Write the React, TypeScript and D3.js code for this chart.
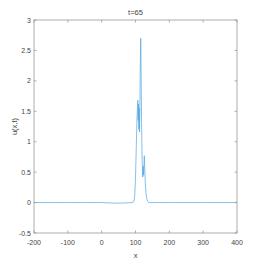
import React from "react";
import * as d3 from "d3";

// u(x, t) at t = 65
const xValues = [
  -200, -150, -100, -50, 0, 20, 40, 60, 80, 90, 94, 96.5, 98, 100, 102, 104,
  106, 107, 108, 109, 110, 111, 112, 113, 114, 115.4, 116.5, 118, 119.5, 121.3,
  122.5, 124, 126, 127.5, 129, 131, 133, 136, 140, 150, 200, 300, 400,
];
const uValues = [
  0, 0, 0, 0, 0, -0.005, -0.01, -0.008, -0.003, 0, 0.01, 0.05, 0.15, 0.4, 0.85,
  1.3, 1.6, 1.68, 1.35, 1.62, 1.2, 1.55, 1.16, 1.5, 2.2, 2.7, 2.2, 1.3, 0.7, 0.42,
  0.6, 0.45, 0.77, 0.55, 0.32, 0.15, 0.07, 0.02, 0, 0, 0, 0, 0,
];

const xTicks = [-200, -100, 0, 100, 200, 300, 400];
const yTicks = [-0.5, 0, 0.5, 1, 1.5, 2, 2.5, 3];

const W = 262;
const H = 262;
const margin = { left: 34, right: 25, top: 20, bottom: 29 };

const App = () => {
  const x = d3
    .scaleLinear()
    .domain([-200, 400])
    .range([margin.left, W - margin.right]);
  const y = d3
    .scaleLinear()
    .domain([-0.5, 3])
    .range([H - margin.bottom, margin.top]);

  const points: [number, number][] = xValues.map((v, i) => [v, uValues[i]]);
  const line = d3
    .line<[number, number]>()
    .x((d) => x(d[0]))
    .y((d) => y(d[1]));

  const x0 = x(-200);
  const x1 = x(400);
  const y0 = y(-0.5);
  const y1 = y(3);
  const tick = 2.5;
  const axisColor = "#9a9a9a";
  const textColor = "#444";
  const font = "'Liberation Sans', Arial, sans-serif";

  return (
    <svg
      width={W}
      height={H}
      style={{ position: "absolute", left: 0, top: 0, background: "#fff" }}
      fontFamily={font}
    >
      <rect x={x0} y={y1} width={x1 - x0} height={y0 - y1} fill="#fff" />

      {/* the curve */}
      <path
        d={line(points) || ""}
        fill="none"
        stroke="#4fa6df"
        strokeWidth={0.7}
        strokeLinejoin="round"
      />

      {/* box */}
      <rect
        x={x0}
        y={y1}
        width={x1 - x0}
        height={y0 - y1}
        fill="none"
        stroke={axisColor}
        strokeWidth={0.8}
      />

      {xTicks.map((t) => (
        <g key={"x" + t}>
          <line x1={x(t)} x2={x(t)} y1={y0} y2={y0 - tick} stroke={axisColor} strokeWidth={0.8} />
          <line x1={x(t)} x2={x(t)} y1={y1} y2={y1 + tick} stroke={axisColor} strokeWidth={0.8} />
          <text
            x={x(t)}
            y={y0 + 12}
            fontSize={7}
            fill={textColor}
            textAnchor="middle"
          >
            {t}
          </text>
        </g>
      ))}

      {yTicks.map((t) => (
        <g key={"y" + t}>
          <line x1={x0} x2={x0 + tick} y1={y(t)} y2={y(t)} stroke={axisColor} strokeWidth={0.8} />
          <line x1={x1} x2={x1 - tick} y1={y(t)} y2={y(t)} stroke={axisColor} strokeWidth={0.8} />
          <text
            x={x0 - 3}
            y={y(t) + 2.5}
            fontSize={7}
            fill={textColor}
            textAnchor="end"
          >
            {t}
          </text>
        </g>
      ))}

      <text
        x={(x0 + x1) / 2}
        y={14.5}
        fontSize={7.5}
        fill={textColor}
        textAnchor="middle"
      >
        t=65
      </text>
      <text
        x={(x0 + x1) / 2}
        y={258}
        fontSize={7.5}
        fill={textColor}
        textAnchor="middle"
      >
        x
      </text>
      <text
        transform={`translate(17, ${(y0 + y1) / 2}) rotate(-90)`}
        fontSize={7.5}
        fill={textColor}
        textAnchor="middle"
      >
        u(x,t)
      </text>
    </svg>
  );
};

export default App;
